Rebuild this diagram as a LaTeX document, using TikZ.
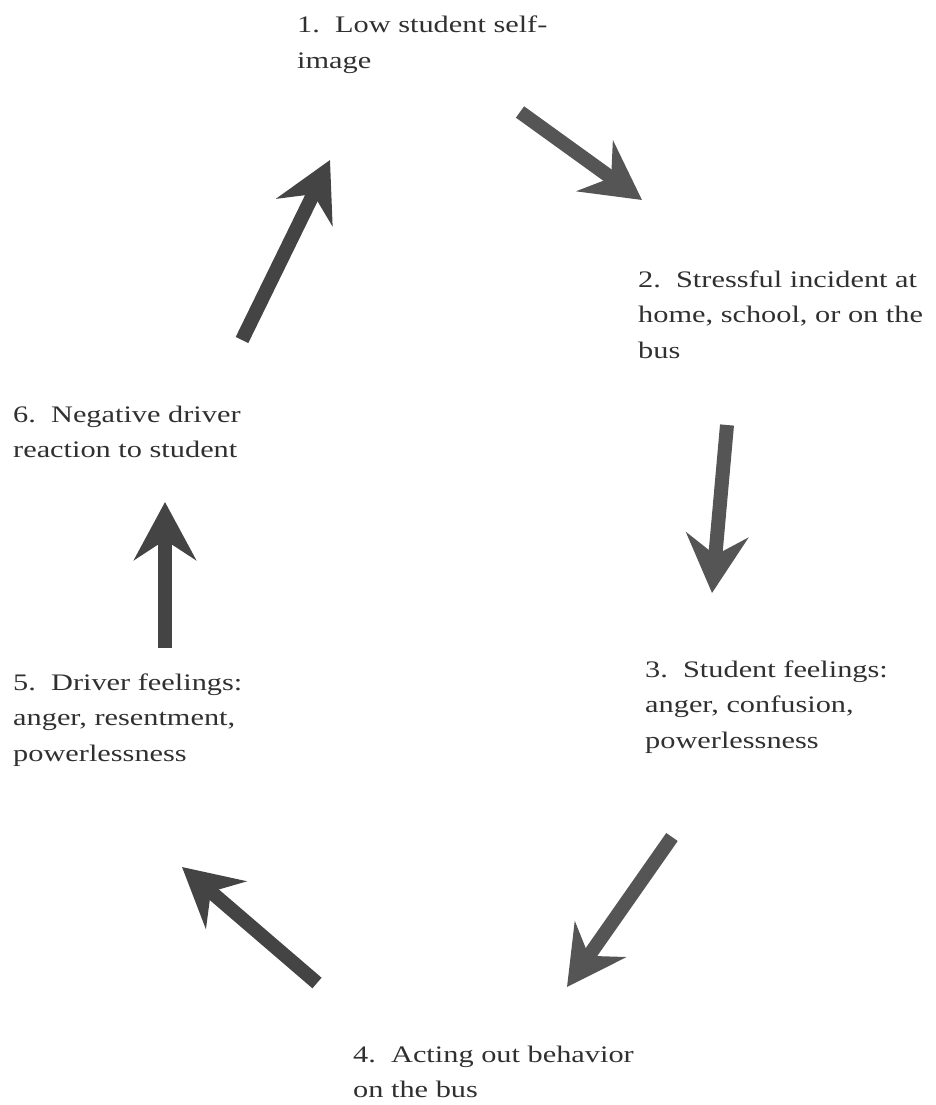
\documentclass[tikz,border=0pt]{standalone}
\usepackage{fontspec}
\setmainfont{Liberation Serif}[FakeStretch=1.28]
\usetikzlibrary{arrows.meta}
\definecolor{inkgray}{HTML}{303030}
\definecolor{dotgray}{HTML}{555555}
\definecolor{solidgray}{HTML}{444444}
\tikzset{
	steplabel/.style={anchor=base west, align=left, inner sep=0pt, text=inkgray,
		font=\fontsize{23.7}{35.5}\selectfont},
	cyclearrow/.style={line width=14pt, -{Stealth[length=58pt, width=62pt, inset=20pt]}},
}
\begin{document}
\begin{tikzpicture}[x=1pt, y=-1pt]
	\useasboundingbox (0,0) rectangle (935,1105);
	% 六个环节：坐标取末行基线左端
	\node[steplabel] (s1) at (297,68.5) {1.~~Low student self-\\image};
	\node[steplabel] (s2) at (638,358) {2.~~Stressful incident at\\home, school, or on the\\bus};
	\node[steplabel] (s3) at (645,748) {3.~~Student feelings:\\anger, confusion,\\powerlessness};
	\node[steplabel] (s4) at (353,1097.5) {4.~~Acting out behavior\\on the bus};
	\node[steplabel] (s5) at (13,761) {5.~~Driver feelings:\\anger, resentment,\\powerlessness};
	\node[steplabel] (s6) at (13,457.5) {6.~~Negative driver\\reaction to student};

	% 箭头：编号/颜色/尾 x,y/头 x,y
	\foreach \n/\col/\tx/\ty/\hx/\hy in {1/dotgray/520/112/642/200, 2/dotgray/727/425/712/593,
			3/dotgray/672/837/567/987, 4/solidgray/317/983/182/867,
			5/solidgray/165/648/165/502, 6/solidgray/242/340/330/160}
	{
		\coordinate (t\n) at (\tx,\ty);
		\coordinate (h\n) at (\hx,\hy);
		\draw[cyclearrow, \col] (t\n) -- (h\n);
	}
\end{tikzpicture}
\end{document}
